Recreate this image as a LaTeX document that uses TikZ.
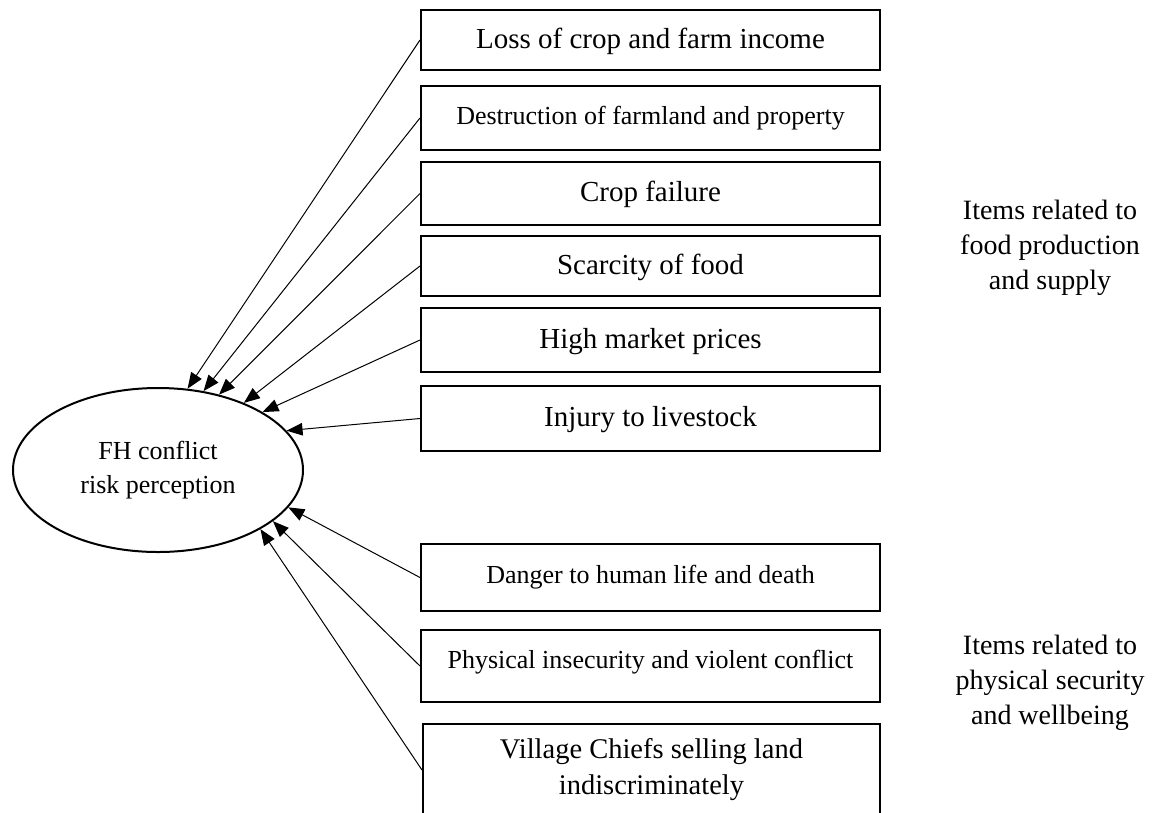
\documentclass[tikz,border=0pt]{standalone}
\usepackage{fontspec}
\setmainfont{Liberation Serif}
\usetikzlibrary{shapes.geometric,arrows.meta}
\begin{document}
\begin{tikzpicture}[x=1pt,y=-1pt,
  item/.style={draw,line width=2pt,minimum width=459pt,inner sep=0pt,align=center,font=\fontsize{29}{34}\selectfont},
  smallitem/.style={item,font=\fontsize{26}{34}\selectfont},
  link/.style={line width=1pt,-{Triangle[length=16pt,width=12.5pt]}},
  group/.style={align=center,font=\fontsize{28}{35}\selectfont}]
\useasboundingbox (0,0) rectangle (1164,812);
\clip (0,0) rectangle (1164,812);

\node[item,minimum height=60pt,text depth=4pt] (b1) at (650.5,40) {Loss of crop and farm income};
\node[smallitem,minimum height=64pt] (b2) at (650.5,118) {Destruction of farmland and property};
\node[item,minimum height=63pt,text depth=4pt] (b3) at (650.5,193.5) {Crop failure};
\node[item,minimum height=60pt,text depth=4pt] (b4) at (650.5,266) {Scarcity of food};
\node[item,minimum height=64pt,text depth=4pt] (b5) at (650.5,340) {High market prices};
\node[item,minimum height=65pt,text depth=4pt] (b6) at (650.5,418.5) {Injury to livestock};
\node[smallitem,minimum height=67pt] (b7) at (650.5,577.5) {Danger to human life and death};
\node[smallitem,minimum height=72pt,text depth=14pt] (b8) at (650.5,666) {Physical insecurity and violent conflict};
\node[item,font=\fontsize{28.5}{36}\selectfont,minimum width=457pt,minimum height=93pt] (b9) at (651.5,770) {Village Chiefs selling land\\indiscriminately};

\node[ellipse,draw,line width=2pt,minimum width=290pt,minimum height=164pt,inner sep=0pt,align=center,font=\fontsize{26}{34}\selectfont] (e) at (158,470) {FH conflict\\risk perception};

\node[group] (g1) at (1050,248) {Items related to\\food production\\and supply};
\node[group] (g2) at (1050,683) {Items related to\\physical security\\and wellbeing};

\draw[link] (b1.west) -- (e.70);
\draw[link] (b2.west) -- (e.60);
\draw[link] (b3.west) -- (e.51);
\draw[link] (b4.west) -- (e.38);
\draw[link] (b5.west) -- (e.29);
\draw[link] (b6.west) -- (e.17);
\draw[link] (b7.west) -- (e.-16);
\draw[link] (b8.west) -- (e.-24);
\draw[link] (b9.west) -- (e.-30);
\end{tikzpicture}
\end{document}
